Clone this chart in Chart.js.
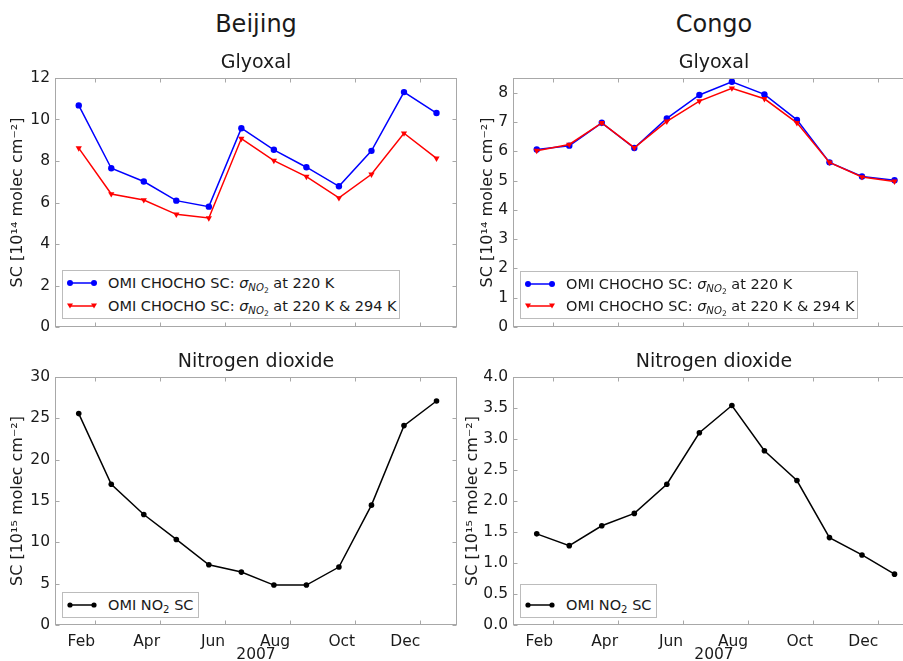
<!DOCTYPE html>
<html><head><meta charset="utf-8">
<script src="https://cdn.jsdelivr.net/npm/chart.js@4.4.1/dist/chart.umd.min.js"></script>
<style>
html,body{margin:0;padding:0;background:#fff;}
#fig{position:relative;width:903px;height:661px;overflow:hidden;background:#fff;font-family:"DejaVu Sans",sans-serif;color:#1a1a1a;}
#fig canvas{position:absolute;}
.t{position:absolute;white-space:nowrap;transform:translateX(-50%);}
.big{font-size:24px;line-height:24px;}
.sub{font-size:19px;line-height:19px;}
.leg{position:absolute;border:1px solid #bcbcbc;background:#fff;box-sizing:border-box;}
.row{position:absolute;left:0;white-space:nowrap;font-size:14.5px;line-height:16px;height:16px;}
.row svg{position:absolute;left:4px;top:3px;}
.row .lab{position:absolute;left:45px;top:0;}
.s1{font-size:0.7em;vertical-align:-0.3em;line-height:0;}
.s2{font-size:0.75em;vertical-align:-0.25em;line-height:0;}
</style></head>
<body>
<div id="fig">
<canvas id="c1"></canvas><canvas id="c2"></canvas><canvas id="c3"></canvas><canvas id="c4"></canvas>
<div class="t big" style="left:256px;top:12px;">Beijing</div>
<div class="t big" style="left:714px;top:12px;">Congo</div>
<div class="t sub" style="left:256px;top:52px;">Glyoxal</div>
<div class="t sub" style="left:714px;top:52px;">Glyoxal</div>
<div class="t sub" style="left:256px;top:351px;">Nitrogen dioxide</div>
<div class="t sub" style="left:714px;top:351px;">Nitrogen dioxide</div>

<div class="leg" style="left:62px;top:270px;width:338px;height:49px;">
  <div class="row" style="top:4px;"><svg width="30" height="10"><line x1="3" y1="5" x2="27" y2="5" stroke="#0000ff" stroke-width="1.5"/><circle cx="3" cy="5" r="3" fill="#0000ff"/><circle cx="27" cy="5" r="3" fill="#0000ff"/></svg><span class="lab">OMI CHOCHO SC: <i>σ</i><span class="s1"><i>NO</i><span class="s2">2</span></span> at 220 K</span></div>
  <div class="row" style="top:27px;"><svg width="30" height="10"><line x1="3" y1="5" x2="27" y2="5" stroke="#ff0000" stroke-width="1.5"/><polygon points="0,2.5 6,2.5 3,7.5" fill="#ff0000"/><polygon points="24,2.5 30,2.5 27,7.5" fill="#ff0000"/></svg><span class="lab">OMI CHOCHO SC: <i>σ</i><span class="s1"><i>NO</i><span class="s2">2</span></span> at 220 K &amp; 294 K</span></div>
</div>
<div class="leg" style="left:520px;top:271px;width:338px;height:48px;">
  <div class="row" style="top:4px;"><svg width="30" height="10"><line x1="3" y1="5" x2="27" y2="5" stroke="#0000ff" stroke-width="1.5"/><circle cx="3" cy="5" r="3" fill="#0000ff"/><circle cx="27" cy="5" r="3" fill="#0000ff"/></svg><span class="lab">OMI CHOCHO SC: <i>σ</i><span class="s1"><i>NO</i><span class="s2">2</span></span> at 220 K</span></div>
  <div class="row" style="top:26px;"><svg width="30" height="10"><line x1="3" y1="5" x2="27" y2="5" stroke="#ff0000" stroke-width="1.5"/><polygon points="0,2.5 6,2.5 3,7.5" fill="#ff0000"/><polygon points="24,2.5 30,2.5 27,7.5" fill="#ff0000"/></svg><span class="lab">OMI CHOCHO SC: <i>σ</i><span class="s1"><i>NO</i><span class="s2">2</span></span> at 220 K &amp; 294 K</span></div>
</div>
<div class="leg" style="left:62px;top:592px;width:137px;height:26px;">
  <div class="row" style="top:4px;"><svg width="30" height="10"><line x1="3" y1="5" x2="27" y2="5" stroke="#000" stroke-width="1.5"/><circle cx="3" cy="5" r="2.6" fill="#000"/><circle cx="27" cy="5" r="2.6" fill="#000"/></svg><span class="lab">OMI NO<span class="s1">2</span> SC</span></div>
</div>
<div class="leg" style="left:520px;top:584px;width:137px;height:34px;">
  <div class="row" style="top:12px;"><svg width="30" height="10"><line x1="3" y1="5" x2="27" y2="5" stroke="#000" stroke-width="1.5"/><circle cx="3" cy="5" r="2.6" fill="#000"/><circle cx="27" cy="5" r="2.6" fill="#000"/></svg><span class="lab">OMI NO<span class="s1">2</span> SC</span></div>
</div>
</div>
<script>
// ---- data ----
const months = ['Jan','Feb','Mar','Apr','May','Jun','Jul','Aug','Sep','Oct','Nov','Dec'];
const xTickLabels = ['Feb','Apr','Jun','Aug','Oct','Dec'];
const xAxisTitle = '2007';
const beijingGlyoxal220 = [10.68,7.65,7.01,6.09,5.80,9.58,8.54,7.70,6.78,8.49,11.32,10.31];
const beijingGlyoxal220_294 = [8.62,6.41,6.12,5.43,5.25,9.08,8.02,7.25,6.22,7.36,9.34,8.13];
const congoGlyoxal220 = [6.06,6.19,6.97,6.11,7.12,7.92,8.37,7.94,7.07,5.62,5.14,5.01];
const congoGlyoxal220_294 = [6.02,6.23,6.97,6.12,7.02,7.71,8.15,7.79,6.97,5.62,5.12,4.97];
const beijingNO2 = [25.57,17.03,13.37,10.35,7.29,6.40,4.83,4.83,7.01,14.50,24.12,27.10];
const congoNO2 = [1.47,1.28,1.60,1.80,2.27,3.10,3.54,2.81,2.33,1.41,1.13,0.82];
const beijingGlyoxalTicks = [0,2,4,6,8,10,12];
const congoGlyoxalTicks = [0,1,2,3,4,5,6,7,8];
const beijingNO2Ticks = [0,5,10,15,20,25,30];
const congoNO2Ticks = [0,0.5,1,1.5,2,2.5,3,3.5,4];
const glyoxalTitle = 'SC [10\u00B9\u2074 molec cm\u207B\u00B2]';
const no2Title = 'SC [10\u00B9\u2075 molec cm\u207B\u00B2]';

// ---- layout / style ----
const FF = '"DejaVu Sans", sans-serif';
const TXT = '#1a1a1a';
const PADL = 60, PADT = 18, PADR = 14;
const XMIN = -0.23, XMAX = 12.13;

const framePlugin = {
  id: 'frame',
  afterDatasetsDraw(chart) {
    const {ctx, chartArea: a, scales: {x, y}} = chart;
    const L = Math.round(a.left) + 0.5, R = Math.round(a.right) - 0.5;
    const T = Math.round(a.top) + 0.5, B = Math.round(a.bottom) - 0.5;
    ctx.save();
    ctx.strokeStyle = '#a8a8a8';
    ctx.lineWidth = 1;
    ctx.beginPath();
    x.ticks.forEach(t => {
      const px = Math.round(x.getPixelForValue(t.value)) + 0.5;
      ctx.moveTo(px, B); ctx.lineTo(px, B - 4);
      ctx.moveTo(px, T); ctx.lineTo(px, T + 4);
    });
    y.ticks.forEach(t => {
      const py = Math.round(y.getPixelForValue(t.value)) + 0.5;
      ctx.moveTo(L, py); ctx.lineTo(L + 4, py);
      ctx.moveTo(R, py); ctx.lineTo(R - 4, py);
    });
    ctx.stroke();
    ctx.strokeRect(L, T, R - L, B - T);
    ctx.restore();
  }
};

function panel(id, p) {
  const cv = document.getElementById(id);
  const W = p.plot[2] - p.plot[0] + PADL + PADR;
  const H = p.plot[3] - p.plot[1] + PADT + p.padB;
  cv.width = W; cv.height = H;
  cv.style.width = W + 'px'; cv.style.height = H + 'px';
  cv.style.left = (p.plot[0] - PADL) + 'px';
  cv.style.top = (p.plot[1] - PADT) + 'px';
  new Chart(cv, {
    type: 'line',
    data: {
      datasets: p.series.map(s => ({
        data: s.values.map((v, i) => ({x: i + 0.5, y: v})),
        borderColor: s.color, backgroundColor: s.color,
        pointBackgroundColor: s.color, pointBorderColor: s.color,
        borderWidth: 1.5, pointRadius: s.r, pointStyle: s.style,
        rotation: s.rot || 0, pointBorderWidth: 0, tension: 0, fill: false,
        order: s.order, clip: false
      }))
    },
    options: {
      responsive: false, animation: false, devicePixelRatio: 1,
      layout: {padding: {left: 0, top: PADT, right: PADR, bottom: 0}},
      plugins: {legend: {display: false}, tooltip: {enabled: false}, title: {display: false}},
      scales: {
        x: {
          type: 'linear', min: XMIN, max: XMAX,
          grid: {display: false, drawTicks: false}, border: {display: false},
          afterBuildTicks: s => { s.ticks = xTickLabels.map(l => ({value: months.indexOf(l)})); },
          afterFit: s => { s.height = p.padB; },
          ticks: {display: p.showX, align: 'end', padding: 8, autoSkip: false, maxRotation: 0,
                  color: TXT, font: {family: FF, size: 15.5}, callback: v => months[v]},
          title: {display: p.showX, text: xAxisTitle, color: TXT,
                  font: {family: FF, size: 15.5, lineHeight: 1}, padding: {top: 0, bottom: 2}}
        },
        y: {
          type: 'linear', min: p.ticks[0], max: p.ymax,
          grid: {display: false, drawTicks: false}, border: {display: false},
          afterBuildTicks: s => { s.ticks = p.ticks.map(v => ({value: v})); },
          afterFit: s => { s.width = PADL; },
          ticks: {padding: 5, color: TXT, font: {family: FF, size: 15.5}, callback: v => v.toFixed(p.dec)},
          title: {display: true, text: p.ytitle, color: TXT,
                  font: {family: FF, size: 16, lineHeight: 1}, padding: {top: p.ytPad, bottom: 0}}
        }
      }
    },
    plugins: [framePlugin]
  });
}

const blue = v => ({values: v, color: '#0000ff', r: 3.2, style: 'circle', order: 2});
const red = v => ({values: v, color: '#ff0000', r: 3.6, style: 'triangle', rot: 180, order: 1});
const black = v => ({values: v, color: '#000000', r: 2.8, style: 'circle', order: 1});

panel('c1', {plot: [55, 78, 457, 327], padB: 22, showX: false, ticks: beijingGlyoxalTicks, ymax: 12, dec: 0,
  ytitle: glyoxalTitle, ytPad: 15, series: [blue(beijingGlyoxal220), red(beijingGlyoxal220_294)]});
panel('c2', {plot: [513, 78, 915, 327], padB: 22, showX: false, ticks: congoGlyoxalTicks, ymax: 8.5, dec: 0,
  ytitle: glyoxalTitle, ytPad: 27, series: [blue(congoGlyoxal220), red(congoGlyoxal220_294)]});
panel('c3', {plot: [55, 377, 457, 625], padB: 40, showX: true, ticks: beijingNO2Ticks, ymax: 30, dec: 0,
  ytitle: no2Title, ytPad: 15, series: [black(beijingNO2)]});
panel('c4', {plot: [513, 377, 915, 625], padB: 40, showX: true, ticks: congoNO2Ticks, ymax: 4, dec: 1,
  ytitle: no2Title, ytPad: 12, series: [black(congoNO2)]});
</script>
</body></html>
